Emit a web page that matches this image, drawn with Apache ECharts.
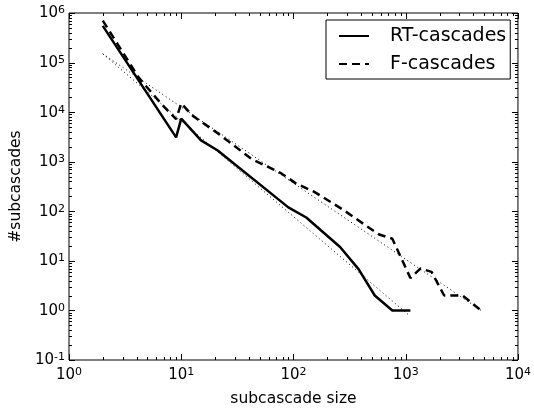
<!DOCTYPE html>
<html>
<head>
<meta charset="utf-8">
<script src="https://cdn.jsdelivr.net/npm/echarts@6/dist/echarts.min.js"></script>
<style>
  html, body { margin: 0; padding: 0; background: #fff; }
  #chart { width: 534px; height: 412px; }
</style>
</head>
<body>
<div id="chart"></div>
<script>
// RT-cascades (solid)
const rtSize  = [2, 9, 10, 15, 21, 90, 130, 260, 380, 530, 760, 1100];
const rtCount = [550000, 3100, 7400, 2700, 1700, 120, 75, 19, 6.8, 2, 1, 1];
// F-cascades (dashed)
const fSize  = [2, 4.2, 6.7, 9, 10, 12.7, 21.7, 42, 78, 105, 152, 278, 475, 580, 760, 1100, 1350, 1700, 2200, 3200, 4700];
const fCount = [700000, 49000, 14400, 7200, 15000, 8400, 3600, 1150, 580, 366, 249, 107, 46, 34, 28, 4.5, 7, 6, 2, 2, 1];
// dotted power-law fits
const fitRtSize  = [2, 1070];
const fitRtCount = [150000, 0.8];
const fitFSize   = [2, 4700];
const fitFCount  = [150000, 1];

const xDecades = [1, 10, 100, 1000, 10000];
const yDecades = [0.1, 1, 10, 100, 1000, 10000, 100000, 1000000];

function pairs(xs, ys) {
  return xs.map(function (x, i) { return [x, ys[i]]; });
}

const font = 'DejaVu Sans';
const chartDom = document.getElementById('chart');
const myChart = echarts.init(chartDom);

function powLabel(v) {
  const e = Math.round(Math.log10(v));
  return '{b|10}{s|' + e + '}';
}
const richPow = {
  b: { fontFamily: font, fontSize: 15, lineHeight: 16, padding: [6, 0, 0, 0], verticalAlign: 'bottom', color: '#000' },
  s: { fontFamily: font, fontSize: 11, lineHeight: 12, verticalAlign: 'top', color: '#000' }
};

// tick marks on all four sides, matplotlib style (inside)
function renderTicks(params, api) {
  const cs = params.coordSys;
  const children = [];
  const left = cs.x, right = cs.x + cs.width, top = cs.y, bottom = cs.y + cs.height;
  function add(x1, y1, x2, y2) {
    children.push({ type: 'line', shape: { x1: x1, y1: y1, x2: x2, y2: y2 },
      style: { stroke: '#000', lineWidth: 1 } });
  }
  xDecades.forEach(function (d, i) {
    for (let k = 1; k <= 9; k++) {
      if (k > 1 && i === xDecades.length - 1) break;
      const v = d * k;
      const px = Math.round(api.coord([v, 1])[0]) + 0.5;
      const len = k === 1 ? 6 : 3;
      add(px, bottom, px, bottom - len);
      add(px, top, px, top + len);
    }
  });
  yDecades.forEach(function (d, i) {
    for (let k = 1; k <= 9; k++) {
      if (k > 1 && i === yDecades.length - 1) break;
      const v = d * k;
      const py = Math.round(api.coord([10, v])[1]) + 0.5;
      const len = k === 1 ? 6 : 3;
      add(left, py, left + len, py);
      add(right, py, right - len, py);
    }
  });
  return { type: 'group', children: children };
}

const option = {
  backgroundColor: '#fff',
  animation: false,
  grid: {
    left: 67, right: 11, top: 11, bottom: 50,
    show: true, borderColor: '#000', borderWidth: 1, backgroundColor: 'transparent'
  },
  legend: {
    orient: 'vertical',
    left: 326, top: 20,
    data: ['RT-cascades', 'F-cascades'],
    borderColor: '#000', borderWidth: 1, borderRadius: 0,
    backgroundColor: '#fff',
    padding: [6, 4, 5, 12],
    itemWidth: 30, itemHeight: 14, itemGap: 8,
    selectedMode: false,
    // hide the symbol drawn in the middle of the line icon
    itemStyle: { color: 'transparent', borderColor: 'transparent', borderWidth: 0, opacity: 0 },
    textStyle: { fontFamily: font, fontSize: 19, lineHeight: 20, color: '#000', padding: [0, 0, 0, 16] }
  },
  xAxis: {
    type: 'log', logBase: 10, min: 1, max: 10000, splitNumber: 4,
    name: 'subcascade size', nameLocation: 'middle', nameGap: 31,
    nameTextStyle: { fontFamily: font, fontSize: 15.5, color: '#000' },
    axisLine: { show: false }, axisTick: { show: false }, splitLine: { show: false },
    minorTick: { show: false },
    axisLabel: { formatter: powLabel, rich: richPow, margin: 7, hideOverlap: false,
      showMinLabel: true, showMaxLabel: true }
  },
  yAxis: {
    type: 'log', logBase: 10, min: 0.1, max: 1000000, splitNumber: 7,
    name: '#subcascades', nameLocation: 'middle', nameGap: 45,
    nameTextStyle: { fontFamily: font, fontSize: 15.5, color: '#000' },
    axisLine: { show: false }, axisTick: { show: false }, splitLine: { show: false },
    axisLabel: { formatter: powLabel, rich: richPow, margin: 4, hideOverlap: false,
      showMinLabel: true, showMaxLabel: true }
  },
  series: [
    {
      name: 'fitRT', type: 'line', data: pairs(fitRtSize, fitRtCount),
      symbol: 'none', silent: true,
      lineStyle: { color: '#000', width: 1, type: [1, 3] }
    },
    {
      name: 'fitF', type: 'line', data: pairs(fitFSize, fitFCount),
      symbol: 'none', silent: true,
      lineStyle: { color: '#000', width: 1, type: [1, 3] }
    },
    {
      name: 'RT-cascades', type: 'line', data: pairs(rtSize, rtCount),
      symbol: 'none',
      itemStyle: { color: '#000' },
      lineStyle: { color: '#000', width: 2.5, type: 'solid' }
    },
    {
      name: 'F-cascades', type: 'line', data: pairs(fSize, fCount),
      symbol: 'none',
      itemStyle: { color: '#000' },
      lineStyle: { color: '#000', width: 2.5, type: [8, 5] }
    },
    {
      name: 'ticks', type: 'custom', data: [[10, 10]], silent: true, z: 10,
      renderItem: renderTicks
    }
  ]
};
option && myChart.setOption(option);
</script>
</body>
</html>
